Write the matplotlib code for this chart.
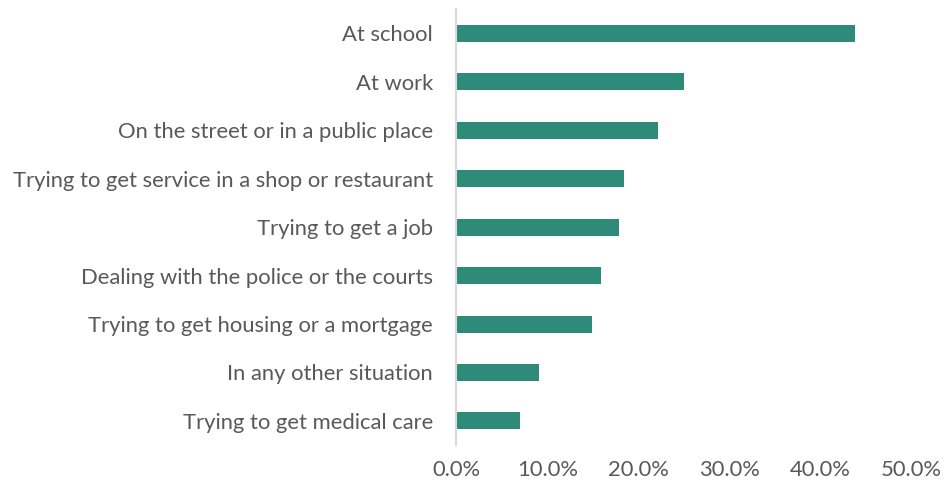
import matplotlib
matplotlib.use("Agg")
import matplotlib.pyplot as plt
from matplotlib.ticker import PercentFormatter

plt.rcParams["font.family"] = ["Lato", "DejaVu Sans"]

categories = [
    "At school",
    "At work",
    "On the street or in a public place",
    "Trying to get service in a shop or restaurant",
    "Trying to get a job",
    "Dealing with the police or the courts",
    "Trying to get housing or a mortgage",
    "In any other situation",
    "Trying to get medical care",
]
shares = [43.8, 25.0, 22.2, 18.4, 17.9, 15.9, 14.9, 9.1, 7.0]
x_ticks = [0, 10, 20, 30, 40, 50]

BAR = "#2E8B7A"
TEXT = "#595959"

fig = plt.figure(figsize=(9.47, 4.87), dpi=100)
ax = fig.add_axes([0.482, 0.086, 0.48, 0.895])

ypos = list(range(len(categories)))
ax.barh(ypos, shares, height=0.35, color=BAR)
ax.set_yticks(ypos)
ax.set_yticklabels(categories)
ax.set_ylim(len(categories) - 0.5, -0.5)

ax.set_xlim(0, 50)
ax.set_xticks(x_ticks)
ax.xaxis.set_major_formatter(PercentFormatter(decimals=1))

for side in ["top", "right", "bottom"]:
    ax.spines[side].set_visible(False)
ax.spines["left"].set_color("#D9D9D9")
ax.spines["left"].set_linewidth(1.5)

ax.tick_params(axis="both", length=0, labelsize=15.8, colors=TEXT)
ax.tick_params(axis="x", pad=11)
ax.tick_params(axis="y", pad=17)

fig.savefig("out.png", dpi=100)
